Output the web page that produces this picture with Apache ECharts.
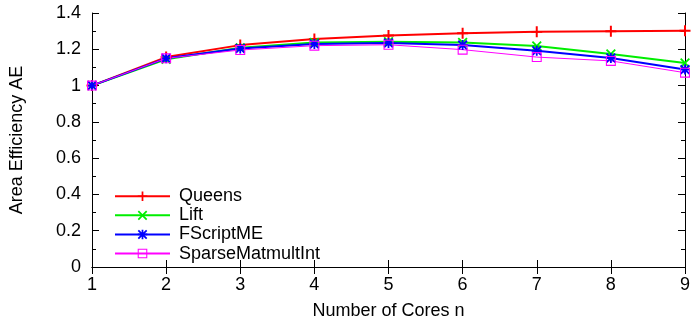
<!DOCTYPE html>
<html>
<head>
<meta charset="utf-8">
<script src="https://cdn.jsdelivr.net/npm/echarts@6/dist/echarts.min.js"></script>
<style>
  html, body { margin: 0; padding: 0; background: #fff; }
  #chart { width: 694px; height: 325px; }
</style>
</head>
<body>
<div id="chart"></div>
<script>
// cores on the x axis
var cores = [1, 2, 3, 4, 5, 6, 7, 8, 9];
var queens = [1.0, 1.157, 1.223, 1.257, 1.276, 1.288, 1.296, 1.300, 1.302];
var lift = [1.0, 1.145, 1.208, 1.237, 1.242, 1.237, 1.218, 1.174, 1.124];
var fscriptme = [1.0, 1.150, 1.204, 1.229, 1.234, 1.223, 1.192, 1.152, 1.088];
var sparse = [1.0, 1.150, 1.196, 1.220, 1.225, 1.198, 1.157, 1.136, 1.071];

var fnt = 'Liberation Sans, Arial, sans-serif';

function pairs(vals) {
  var out = [];
  for (var i = 0; i < cores.length; i++) out.push([cores[i], vals[i]]);
  return out;
}

// marker shapes (filled outlines so they look like stroked gnuplot points)
var plusPath = 'path://M4.1,0h1.8v10h-1.8zM0,4.1h10v1.8h-10z';
var crossPath = 'path://M0,1.3L1.3,0L10,8.7L8.7,10ZM8.7,0L10,1.3L1.3,10L0,8.7Z';
var starPath = 'path://M4.1,0h1.8v10h-1.8zM0,4.1h10v1.8h-10zM0,1.3L1.3,0L10,8.7L8.7,10ZM8.7,0L10,1.3L1.3,10L0,8.7Z';
var boxPath = 'path://M0,0h10v10h-10zM1.1,1.1v7.8h7.8v-7.8z';

function line(name, vals, color, width, symbol, size) {
  return {
    name: name,
    type: 'line',
    data: pairs(vals),
    symbol: symbol,
    symbolSize: size,
    showAllSymbol: true,
    lineStyle: { color: color, width: width },
    itemStyle: { color: color, borderWidth: 0 },
    emphasis: { disabled: true },
    z: 3
  };
}

var chart = echarts.init(document.getElementById('chart'));

var tickBase = { show: true, inside: true, length: 7, lineStyle: { color: '#000', width: 1 } };
var minorBase = { show: true, splitNumber: 2, length: 4, lineStyle: { color: '#000', width: 1 } };

var option = {
  animation: false,
  grid: { left: 92, right: 9, top: 13, bottom: 55 },
  legend: {
    orient: 'vertical',
    left: 109,
    top: 182,
    itemWidth: 55,
    itemHeight: 12,
    itemGap: 0.6,
    textStyle: { fontFamily: fnt, fontSize: 18, lineHeight: 18.5, color: '#000', padding: [0, 0, 0, 4] },
    data: ['Queens', 'Lift', 'FScriptME', 'SparseMatmultInt']
  },
  xAxis: [{
    type: 'value',
    min: 1, max: 9, interval: 1,
    name: 'Number of Cores n',
    nameLocation: 'middle',
    nameGap: 35,
    nameTextStyle: { fontFamily: fnt, fontSize: 18, color: '#000' },
    axisLine: { show: true, lineStyle: { color: '#000', width: 1 } },
    axisTick: tickBase,
    axisLabel: { fontFamily: fnt, fontSize: 18, color: '#000', margin: 9 },
    splitLine: { show: false }
  }, {
    type: 'value', position: 'top',
    min: 1, max: 9, interval: 1,
    axisLine: { show: true, lineStyle: { color: '#000', width: 1 } },
    axisTick: tickBase,
    axisLabel: { show: false },
    splitLine: { show: false }
  }],
  yAxis: [{
    type: 'value',
    min: 0, max: 1.4, interval: 0.2,
    name: 'Area Efficiency AE',
    nameLocation: 'middle',
    nameGap: 66,
    nameTextStyle: { fontFamily: fnt, fontSize: 18, color: '#000' },
    axisLine: { show: true, lineStyle: { color: '#000', width: 1 } },
    axisTick: tickBase,
    minorTick: minorBase,
    axisLabel: { fontFamily: fnt, fontSize: 18, color: '#000', margin: 11,
      formatter: function (v) { return String(Math.round(v * 10) / 10); } },
    splitLine: { show: false }
  }, {
    type: 'value', position: 'right',
    min: 0, max: 1.4, interval: 0.2,
    axisLine: { show: true, lineStyle: { color: '#000', width: 1 } },
    axisTick: tickBase,
    minorTick: minorBase,
    axisLabel: { show: false },
    splitLine: { show: false }
  }],
  series: [
    line('Queens', queens, '#ff0000', 2, plusPath, 11),
    line('Lift', lift, '#00ee00', 2, crossPath, 10),
    line('FScriptME', fscriptme, '#0000ff', 2, starPath, 10),
    line('SparseMatmultInt', sparse, '#ff00ff', 1, boxPath, 10)
  ]
};

chart.setOption(option);
</script>
</body>
</html>
